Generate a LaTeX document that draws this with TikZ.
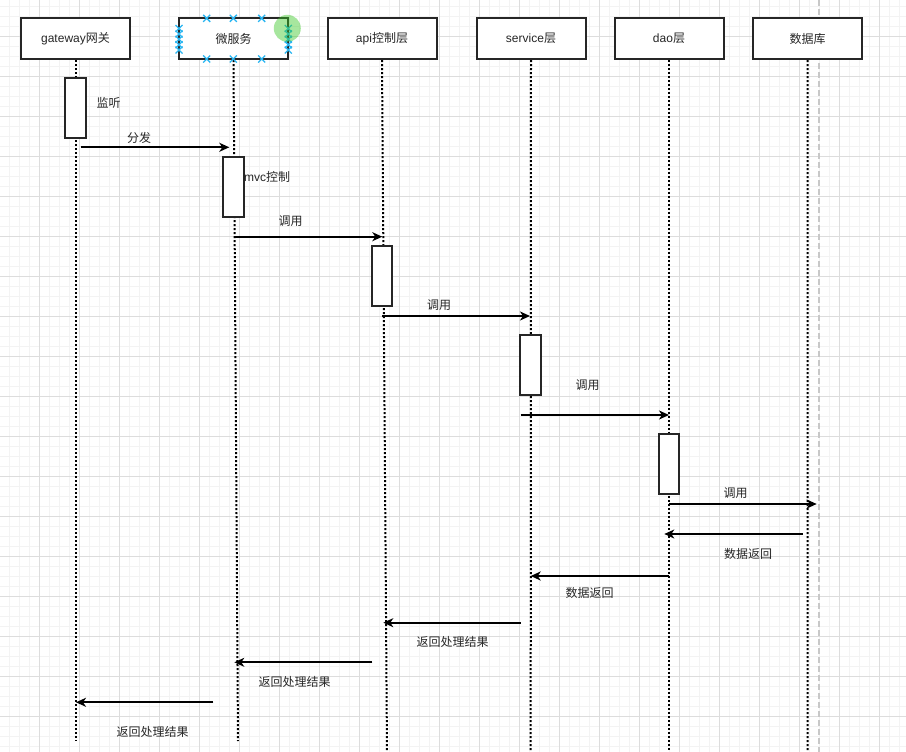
\documentclass[tikz,border=0pt]{standalone}
\usepackage{fontspec}
\setmainfont{Liberation Sans}
\newfontfamily\cjkfont{Noto Sans CJK SC}
\newcommand{\zh}[1]{{\cjkfont #1}}
\usetikzlibrary{arrows.meta}

\definecolor{gridmajor}{RGB}{221,221,221}
\definecolor{gridminor}{RGB}{243,243,243}
\definecolor{pageline}{RGB}{200,200,200}
\definecolor{handle}{RGB}{41,182,242}
\definecolor{hover}{RGB}{60,200,40}

\tikzset{
  lane/.style={draw=black!85, line width=2pt, fill=white, minimum width=109pt,
    minimum height=41pt, inner sep=0pt, text=black!85},
  actbox/.style={draw=black!85, line width=2pt, fill=white, minimum width=20.5pt,
    minimum height=60pt, inner sep=0pt},
  lifeline/.style={line width=2pt, dash pattern=on 2pt off 2pt},
  msg/.style={line width=2pt, -{Stealth[length=10pt,width=9pt,inset=3pt]}},
  lbl/.style={text=black!85, inner sep=0pt},
  handlemark/.style={draw=handle, line width=1.3pt},
}

\begin{document}
\begin{tikzpicture}[x=1pt, y=-1pt, every node/.style={font=\fontsize{12}{14}\selectfont}]
  \useasboundingbox (0,0) rectangle (906,752);
  \fill[white] (0,0) rectangle (906,752);
  % background grid
  \foreach \g in {9.5,19.5,...,905.5} \draw[gridminor, line width=1pt] (\g,0) -- (\g,752);
  \foreach \g in {6.5,16.5,...,751.5} \draw[gridminor, line width=1pt] (0,\g) -- (906,\g);
  \foreach \g in {39.5,79.5,...,905.5} \draw[gridmajor, line width=1pt] (\g,0) -- (\g,752);
  \foreach \g in {36.5,76.5,...,751.5} \draw[gridmajor, line width=1pt] (0,\g) -- (906,\g);
  \draw[pageline, line width=1.5pt, dash pattern=on 6pt off 3pt] (819,0) -- (819,752);

  % lanes
  \node[lane] (gw)  at (75.5,38.7)  {gateway\zh{网关}};
  \node[lane] (ms)  at (233.5,38.7) {\zh{微服务}};
  \node[lane] (api) at (382,38.7)   {api\zh{控制层}};
  \node[lane] (svc) at (531,38.7)   {service\zh{层}};
  \node[lane] (dao) at (669,38.7)   {dao\zh{层}};
  \node[lane] (db)  at (807.5,38.7) {\zh{数据库}};

  % lifelines
  \coordinate (gwend)  at (75.5,741);
  \coordinate (msend)  at (238,741);
  \coordinate (apiend) at (387,752);
  \coordinate (svcend) at (530.7,752);
  \coordinate (daoend) at (669,752);
  \coordinate (dbend)  at (807.7,752);
  \draw[lifeline] (gw.south)  -- (gwend);
  \draw[lifeline] (ms.south)  -- (msend);
  \draw[lifeline] (api.south) -- (apiend);
  \draw[lifeline] (svc.south) -- (svcend);
  \draw[lifeline] (dao.south) -- (daoend);
  \draw[lifeline] (db.south)  -- (dbend);

  % activations
  \node[actbox] (gwact)  at (75.5,108)  {};
  \node[actbox] (msact)  at (233.5,187) {};
  \node[actbox] (apiact) at (382,276)   {};
  \node[actbox] (svcact) at (530.5,365) {};
  \node[actbox] (daoact) at (669,464)   {};

  \node[lbl] (listen) at (108.5,103) {\zh{监听}};
  \node[lbl, anchor=west] (mvc) at (244,176.7) {mvc\zh{控制}};

  % calls
  \coordinate (c1a) at (80.7,147.3);  \coordinate (c1b) at (229.3,147.3);
  \coordinate (c2a) at (234.3,236.7); \coordinate (c2b) at (382.3,236.7);
  \coordinate (c3a) at (382.3,316);   \coordinate (c3b) at (530,316);
  \coordinate (c4a) at (520.7,415);   \coordinate (c4b) at (669,415);
  \coordinate (c5a) at (669,504);     \coordinate (c5b) at (816.7,504);
  \draw[msg] (c1a) -- (c1b);
  \draw[msg] (c2a) -- (c2b);
  \draw[msg] (c3a) -- (c3b);
  \draw[msg] (c4a) -- (c4b);
  \draw[msg] (c5a) -- (c5b);
  \node[lbl] (dispatch) at (139,137.5) {\zh{分发}};
  \node[lbl] (call1) at (290.5,221.5) {\zh{调用}};
  \node[lbl] (call2) at (439,305)     {\zh{调用}};
  \node[lbl] (call3) at (587.5,385)   {\zh{调用}};
  \node[lbl] (call4) at (735.5,493)   {\zh{调用}};

  % returns
  \coordinate (r1a) at (802.7,534);   \coordinate (r1b) at (664.3,534);
  \coordinate (r2a) at (669,576);     \coordinate (r2b) at (530.7,576);
  \coordinate (r3a) at (520.7,622.7); \coordinate (r3b) at (383.3,622.7);
  \coordinate (r4a) at (372.3,662.3); \coordinate (r4b) at (234.3,662.3);
  \coordinate (r5a) at (213.3,702.3); \coordinate (r5b) at (76,702.3);
  \draw[msg] (r1a) -- (r1b);
  \draw[msg] (r2a) -- (r2b);
  \draw[msg] (r3a) -- (r3b);
  \draw[msg] (r4a) -- (r4b);
  \draw[msg] (r5a) -- (r5b);
  \node[lbl] (ret1) at (748,554)     {\zh{数据返回}};
  \node[lbl] (ret2) at (589.5,592.5) {\zh{数据返回}};
  \node[lbl] (ret3) at (452.5,641.5) {\zh{返回处理结果}};
  \node[lbl] (ret4) at (294.5,681.5) {\zh{返回处理结果}};
  \node[lbl] (ret5) at (152.5,731.5) {\zh{返回处理结果}};

  % selection handles on the micro-service lane
  \foreach \hx/\hy in {206.7/18.3, 233.3/18.3, 261.7/18.3, 206.7/59, 233.3/59, 261.7/59,
      179/28.5, 179/34, 179/39.3, 179/44.7, 179/50,
      288.3/28.5, 288.3/34, 288.3/39.3, 288.3/44.7, 288.3/50}
    \draw[handlemark] (\hx-3.5,\hy-3.5) -- (\hx+3.5,\hy+3.5) (\hx-3.5,\hy+3.5) -- (\hx+3.5,\hy-3.5);
  \fill[hover, fill opacity=0.45] (287.3,28.3) circle (13.5);
\end{tikzpicture}
\end{document}
